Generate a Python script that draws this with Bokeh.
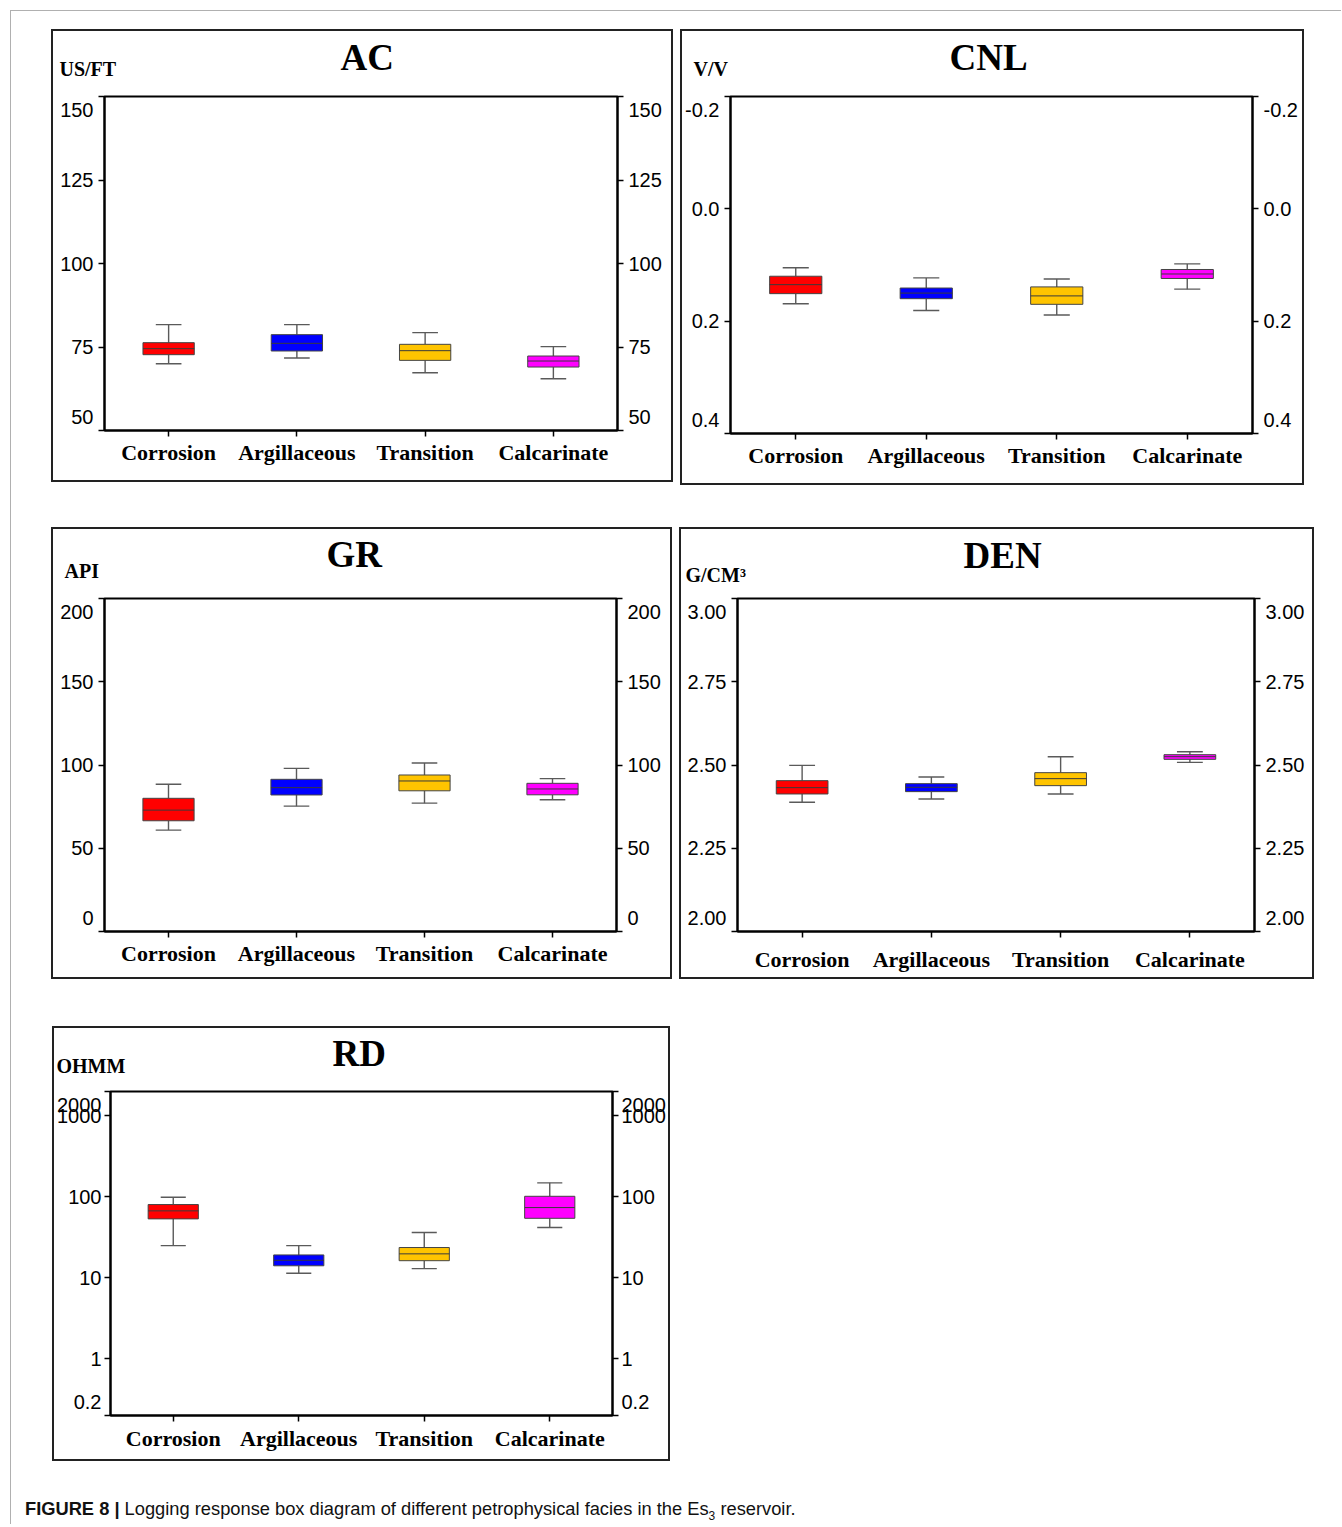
from bokeh.plotting import figure
from bokeh.models import (FactorRange, Range1d, LinearAxis, LogAxis, FixedTicker,
                          PrintfTickFormatter, CustomJSTickFormatter, ColumnDataSource,
                          Title, Spacer, Div)
from bokeh.layouts import row, column
from bokeh.transform import dodge
from bokeh.embed import file_html
from bokeh.resources import INLINE

# ---------------- data ----------------
categories = ["Corrosion", "Argillaceous", "Transition", "Calcarinate"]
box_colors = ["#FF0000", "#0000FF", "#FFC400", "#FF00FF"]

# AC (US/FT)
ac_low = [70.0, 71.7, 67.3, 65.5]
ac_q1 = [72.7, 73.8, 71.0, 69.0]
ac_med = [74.5, 76.1, 73.9, 70.8]
ac_q3 = [76.3, 78.7, 75.8, 72.3]
ac_high = [81.7, 81.7, 79.3, 75.1]
ac_ticks = [50, 75, 100, 125, 150]
ac_labels = ["50", "75", "100", "125", "150"]

# CNL (V/V)
cnl_low = [0.169, 0.181, 0.189, 0.143]
cnl_q1 = [0.151, 0.160, 0.170, 0.124]
cnl_med = [0.135, 0.150, 0.155, 0.116]
cnl_q3 = [0.120, 0.141, 0.139, 0.108]
cnl_high = [0.105, 0.123, 0.125, 0.098]
cnl_ticks = [0.4, 0.2, 0.0, -0.2]
cnl_labels = ["0.4", "0.2", "0.0", "-0.2"]

# GR (API)
gr_low = [60.9, 75.3, 77.1, 79.1]
gr_q1 = [66.5, 82.0, 84.5, 82.1]
gr_med = [72.9, 86.4, 90.4, 85.6]
gr_q3 = [80.0, 91.4, 94.0, 89.0]
gr_high = [88.4, 98.0, 101.2, 91.8]
gr_ticks = [0, 50, 100, 150, 200]
gr_labels = ["0", "50", "100", "150", "200"]

# DEN (G/CM3)
den_low = [2.388, 2.398, 2.413, 2.508]
den_q1 = [2.413, 2.420, 2.438, 2.517]
den_med = [2.432, 2.433, 2.459, 2.525]
den_q3 = [2.453, 2.444, 2.477, 2.531]
den_high = [2.499, 2.464, 2.525, 2.540]
den_ticks = [2.0, 2.25, 2.5, 2.75, 3.0]
den_labels = ["2.00", "2.25", "2.50", "2.75", "3.00"]

# RD (OHMM)
rd_low = [25.0, 11.4, 13.0, 41.8]
rd_q1 = [53.5, 14.1, 16.3, 54.4]
rd_med = [67.2, 16.5, 19.8, 73.8]
rd_q3 = [80.4, 19.2, 23.7, 101.7]
rd_high = [99.0, 25.0, 36.3, 149.0]
rd_ticks = [0.2, 1, 10, 100, 1000, 2000]
rd_labels = ["0.2", "1", "10", "100", "1000", "2000"]

SERIF = "Liberation Serif"
SANS = "Liberation Sans"


def end_shift_overrides(ticks, labels):
    # bottom-most label nudged up, top-most nudged down (as in the original)
    ov = {}
    for i, (t, s) in enumerate(zip(ticks, labels)):
        if i == 0:
            ov[t] = s + "\n"
        elif i == len(ticks) - 1:
            ov[t] = "\n" + s
        else:
            ov[t] = s
    return ov


def make_panel(title, unit, lo, q1, md, q3, hi, y_range, ticks, labels, fmt,
               w, h, bl, br, bt, bb, unit_off, unit_standoff, title_left, title_standoff,
               xlabel_standoff, ylabel_standoff=5, log=False):
    p = figure(width=w, height=h,
               x_range=FactorRange(factors=categories, range_padding=0),
               y_range=y_range,
               y_axis_type="log" if log else "linear",
               output_backend="svg", toolbar_location=None,
               min_border_left=bl, min_border_right=br,
               min_border_top=bt, min_border_bottom=bb,
               title=None)
    p.styles = {"box-shadow": "0 0 0 2px #222222"}

    ut = Title(text=unit, align="left", offset=unit_off, standoff=unit_standoff,
               text_font=SERIF, text_font_style="bold", text_font_size="20px",
               text_color="black")
    p.add_layout(ut, "above")
    mt = Title(text=title, align="left", offset=title_left,
               text_font=SERIF, text_font_style="bold", text_font_size="37px",
               text_color="black")
    try:
        mt.standoff = title_standoff
    except Exception:
        mt.standoff = 0
    p.add_layout(mt, "above")

    p.add_layout((LogAxis if log else LinearAxis)(), "right")
    ov = end_shift_overrides(ticks, labels)
    for ax in p.yaxis:
        ax.ticker = FixedTicker(ticks=ticks)
        ax.formatter = fmt
        ax.major_label_overrides = ov
        ax.axis_label = None
        ax.axis_line_width = 2
        ax.axis_line_color = "black"
        ax.major_tick_out = 6
        ax.major_tick_in = 0
        ax.major_tick_line_width = 1.5
        ax.major_tick_line_color = "black"
        ax.minor_tick_out = 0
        ax.minor_tick_in = 0
        ax.major_label_text_font = SANS
        ax.major_label_text_font_size = "20px"
        ax.major_label_text_color = "black"
        ax.major_label_standoff = ylabel_standoff

    xa = p.xaxis[0]
    xa.axis_label = None
    xa.axis_line_width = 2
    xa.axis_line_color = "black"
    xa.major_tick_out = 6
    xa.major_tick_in = 0
    xa.major_tick_line_width = 1.5
    xa.major_label_text_font = SERIF
    xa.major_label_text_font_style = "bold"
    xa.major_label_text_font_size = "22px"
    xa.major_label_text_color = "black"
    xa.major_label_standoff = xlabel_standoff

    p.grid.visible = False
    p.outline_line_color = "black"
    p.outline_line_width = 2
    p.background_fill_color = "white"
    p.border_fill_color = "white"

    src = ColumnDataSource(dict(cat=categories, lo=lo, q1=q1, md=md, q3=q3, hi=hi,
                                color=box_colors))
    wc = "#5a5a5a"
    p.segment(x0="cat", y0="q3", x1="cat", y1="hi", source=src, line_color=wc, line_width=1.4)
    p.segment(x0="cat", y0="lo", x1="cat", y1="q1", source=src, line_color=wc, line_width=1.4)
    p.segment(x0=dodge("cat", -0.1, range=p.x_range), y0="hi",
              x1=dodge("cat", 0.1, range=p.x_range), y1="hi",
              source=src, line_color=wc, line_width=1.4)
    p.segment(x0=dodge("cat", -0.1, range=p.x_range), y0="lo",
              x1=dodge("cat", 0.1, range=p.x_range), y1="lo",
              source=src, line_color=wc, line_width=1.4)
    p.vbar(x="cat", width=0.4, bottom="q1", top="q3", source=src,
           fill_color="color", line_color="#444444", line_width=1)
    p.segment(x0=dodge("cat", -0.2, range=p.x_range), y0="md",
              x1=dodge("cat", 0.2, range=p.x_range), y1="md",
              source=src, line_color="#3a3a3a", line_width=1)
    return p


# row 1: both plots share top border 65 and bottom border 50
p_ac = make_panel("AC", "US/FT", ac_low, ac_q1, ac_med, ac_q3, ac_high,
                  Range1d(50, 150), ac_ticks, ac_labels, PrintfTickFormatter(format="%d"),
                  618, 449, 51, 54, 65, 50, -45, 34, 236, -78, 3)
p_cnl = make_panel("CNL", "V/V", cnl_low, cnl_q1, cnl_med, cnl_q3, cnl_high,
                   Range1d(0.4, -0.2), cnl_ticks, cnl_labels, PrintfTickFormatter(format="%.1f"),
                   620, 452, 47, 50, 65, 50, -37, 34, 219, -78, 3)
# row 2: both plots share top border 69 and bottom border 46
p_gr = make_panel("GR", "API", gr_low, gr_q1, gr_med, gr_q3, gr_high,
                  Range1d(0, 200), gr_ticks, gr_labels, PrintfTickFormatter(format="%d"),
                  617, 448, 51, 54, 69, 46, -40, 34, 222, -68, 3)
p_den = make_panel("DEN", "G/CM³", den_low, den_q1, den_med, den_q3, den_high,
                   Range1d(2.0, 3.0), den_ticks, den_labels, PrintfTickFormatter(format="%.2f"),
                   631, 448, 56, 58, 69, 46, -52, 26, 226, -54, 9)
p_rd = make_panel("RD", "OHMM", rd_low, rd_q1, rd_med, rd_q3, rd_high,
                  Range1d(0.2, 2000), rd_ticks, rd_labels,
                  CustomJSTickFormatter(code="return String(tick);"),
                  614, 431, 55, 55, 63, 44, -54, 30, 222, -72, 4, ylabel_standoff=3, log=True)

caption = Div(
    text='<span style="font-weight:bold">FIGURE 8 |</span> Logging response box diagram of '
         'different petrophysical facies in the Es<sub style="font-size:12px">3</sub> reservoir.',
    width=900, height=20,
    styles={"font-family": "'Liberation Sans Narrow', 'Liberation Sans', sans-serif",
            "font-size": "18.3px", "color": "#111111", "line-height": "20px"})

inner = column(
    Spacer(width=1330, height=20),
    row(Spacer(width=42, height=10), p_ac, Spacer(width=11, height=10), p_cnl),
    Spacer(width=10, height=46),
    row(Spacer(width=42, height=10), p_gr, Spacer(width=11, height=10), p_den),
    Spacer(width=10, height=51),
    row(Spacer(width=43, height=10), p_rd),
    Spacer(width=10, height=35),
    row(Spacer(width=9, height=10), caption),
)
inner.styles = {"border-top": "1px solid #b0b0b0", "border-left": "1px solid #b0b0b0"}

layout = column(Spacer(width=10, height=10), row(Spacer(width=10, height=10), inner))

open("out.html", "w").write(file_html(layout, INLINE))
